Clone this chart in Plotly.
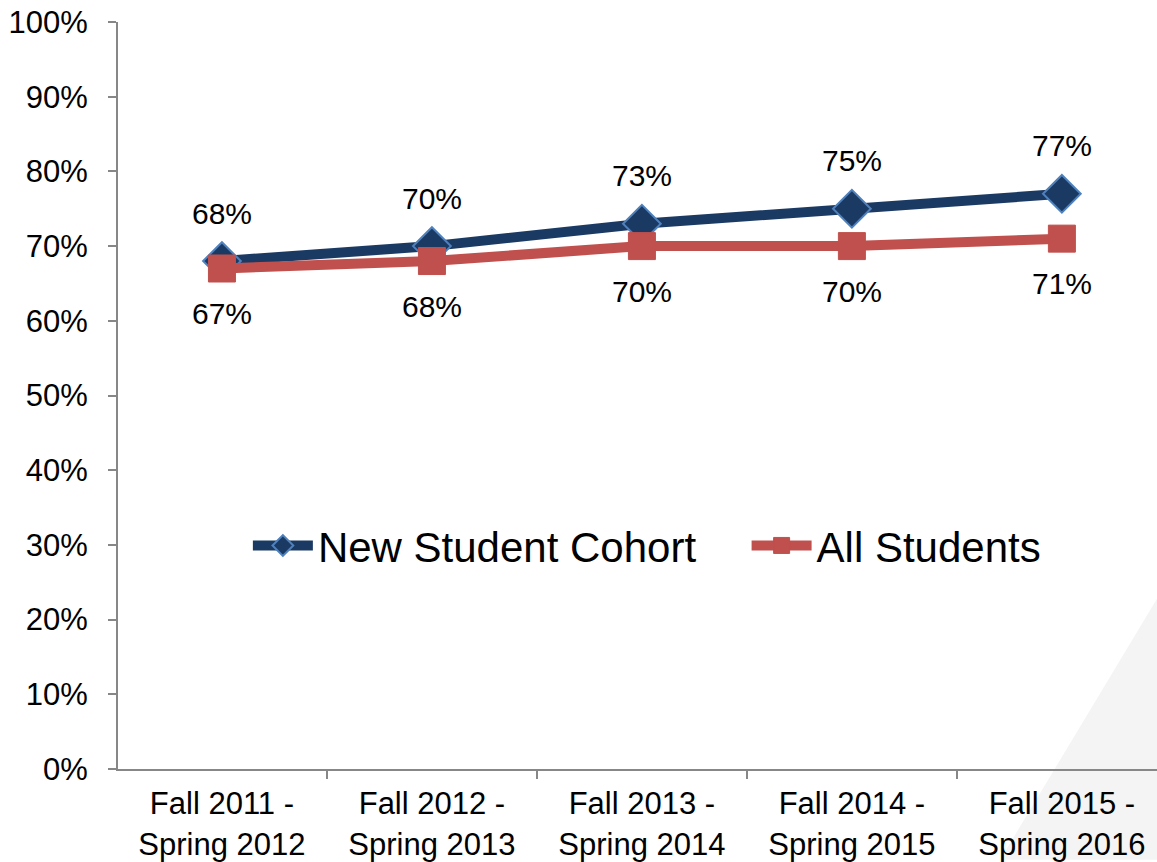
import plotly.graph_objects as go

# Academic years on the horizontal axis
periods = [
    "Fall 2011 -<br>Spring 2012",
    "Fall 2012 -<br>Spring 2013",
    "Fall 2013 -<br>Spring 2014",
    "Fall 2014 -<br>Spring 2015",
    "Fall 2015 -<br>Spring 2016",
]
# Fall-to-spring persistence rates
new_cohort = [0.68, 0.70, 0.73, 0.75, 0.77]
all_students = [0.67, 0.68, 0.70, 0.70, 0.71]

NAVY = "#1B3A63"
NAVY_EDGE = "#4F81BD"
RED = "#C0504D"
FONT = "Liberation Sans, Arial, sans-serif"

fig = go.Figure()

fig.add_trace(go.Scatter(
    x=periods, y=new_cohort, name="New Student Cohort",
    mode="lines+markers", legend="legend",
    line=dict(color=NAVY, width=10),
    marker=dict(symbol="diamond", size=29, color=NAVY,
                line=dict(color=NAVY_EDGE, width=2)),
))
fig.add_trace(go.Scatter(
    x=periods, y=all_students, name="All Students",
    mode="lines+markers", legend="legend2",
    line=dict(color=RED, width=10),
    marker=dict(symbol="square", size=27, color=RED,
                line=dict(color=RED, width=1)),
))

# Value labels: cohort above its points, all students below
annotations = []
for xv, v in zip(periods, new_cohort):
    annotations.append(dict(x=xv, y=v, text=f"{v:.0%}", showarrow=False,
                            yshift=48, font=dict(size=30, color="black", family=FONT)))
for xv, v in zip(periods, all_students):
    annotations.append(dict(x=xv, y=v, text=f"{v:.0%}", showarrow=False,
                            yshift=-45, font=dict(size=30, color="black", family=FONT)))

# Faint diagonal backdrop in the lower-right corner
shapes = [dict(
    type="path", xref="paper", yref="paper", layer="below",
    path="M 1.0 0.228 L 0.849 -0.1215 L 1.0 -0.1215 Z",
    fillcolor="#f4f4f4", line=dict(width=0),
)]

legend_style = dict(
    orientation="h", xanchor="left", y=0.299, yanchor="middle",
    font=dict(size=42, family=FONT, color="black"),
    itemwidth=60, bgcolor="rgba(0,0,0,0)",
)

fig.update_layout(
    width=1157, height=862,
    margin=dict(l=118, r=0, t=22, b=91),
    paper_bgcolor="white", plot_bgcolor="rgba(0,0,0,0)",
    font=dict(family=FONT, color="black", size=31),
    showlegend=True,
    legend=dict(x=0.125, **legend_style),
    legend2=dict(x=0.605, **legend_style),
    annotations=annotations,
    shapes=shapes,
)

fig.update_xaxes(
    type="category", range=[-0.495, 4.453],
    showline=True, linecolor="#878787", linewidth=2,
    ticks="outside", ticklen=8, tickcolor="#878787", tickwidth=2,
    tickson="boundaries", showgrid=False, zeroline=False,
    ticklabelstandoff=6,
    tickfont=dict(size=31, family=FONT, color="black"),
)
fig.update_yaxes(
    range=[0, 1], dtick=0.1, tickformat=".0%",
    showline=True, linecolor="#878787", linewidth=2,
    ticks="outside", ticklen=8, tickcolor="#878787", tickwidth=2,
    showgrid=False, zeroline=False,
    ticklabelstandoff=14,
    tickfont=dict(size=31, family=FONT, color="black"),
)

fig.write_html("out.html")
